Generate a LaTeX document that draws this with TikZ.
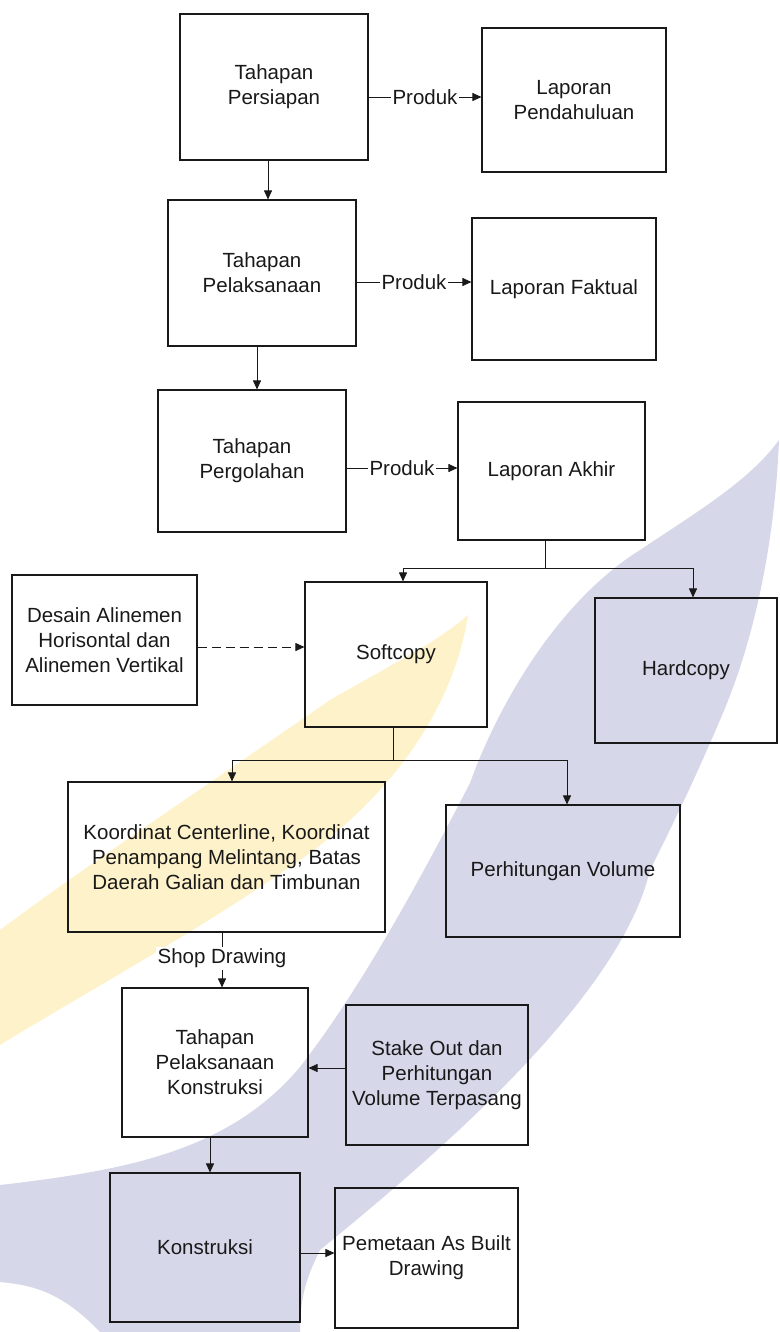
\documentclass[tikz,border=0pt]{standalone}
\usepackage{fontspec}
\setmainfont{Liberation Sans}
\usetikzlibrary{arrows.meta}
\definecolor{lav}{RGB}{214,215,233}
\definecolor{ylw}{RGB}{254,242,202}
\definecolor{ink}{RGB}{25,25,25}
\tikzset{
  box/.style={draw=ink, line width=1.1pt, rectangle, align=center, text=ink,
    font=\fontsize{20.5}{25}\selectfont, inner sep=0pt},
  conn/.style={draw=ink, line width=0.9pt},
  arr/.style={conn, -{Triangle[length=9pt,width=8pt]}},
  lbl/.style={fill=white, inner sep=2pt, text=ink, font=\fontsize{20.5}{25}\selectfont}
}
\begin{document}
\begin{tikzpicture}[x=1pt,y=-1pt]
\useasboundingbox (0,0) rectangle (779,1332);
% watermark bands
\fill[lav] (779,440) .. controls (775,540) and (755,640) .. (720,720)
  .. controls (690,790) and (670,830) .. (650,870)
  .. controls (620,1000) and (430,1160) .. (320,1250)
  .. controls (305,1280) and (300,1300) .. (300,1332) -- (100,1332)
  .. controls (60,1290) and (30,1285) .. (0,1282) -- (0,1185)
  .. controls (130,1170) and (230,1150) .. (300,1067)
  .. controls (360,990) and (420,880) .. (470,783)
  .. controls (500,700) and (560,600) .. (640,550)
  .. controls (700,510) and (750,480) .. (779,440) -- cycle;
\fill[ylw] (468,615) .. controls (455,700) and (400,790) .. (300,860)
  .. controls (200,930) and (90,990) .. (0,1045) -- (0,930)
  .. controls (80,870) and (200,790) .. (330,700)
  .. controls (400,660) and (440,640) .. (468,615) -- cycle;
% nodes
\node[box, minimum width=188pt, minimum height=146pt] (pers) at (274,87) {Tahapan\\Persiapan};
\node[box, minimum width=184pt, minimum height=144pt] (pend) at (574,100) {Laporan\\Pendahuluan};
\node[box, minimum width=188pt, minimum height=146pt] (pel) at (262,273) {Tahapan\\Pelaksanaan};
\node[box, minimum width=184pt, minimum height=142pt] (fakt) at (564,289) {Laporan Faktual};
\node[box, minimum width=188pt, minimum height=142pt] (perg) at (252,461) {Tahapan\\Pergolahan};
\node[box, minimum width=187pt, minimum height=138pt] (akhir) at (551.5,471) {Laporan Akhir};
\node[box, minimum width=185pt, minimum height=130pt] (desain) at (104.5,640) {Desain Alinemen\\Horisontal dan\\Alinemen Vertikal};
\node[box, minimum width=182pt, minimum height=145pt] (soft) at (396,654.5) {Softcopy};
\node[box, minimum width=182pt, minimum height=145pt] (hard) at (686,670.5) {Hardcopy};
\node[box, minimum width=317pt, minimum height=150pt] (koord) at (226.5,857) {Koordinat Centerline, Koordinat\\Penampang Melintang, Batas\\Daerah Galian dan Timbunan};
\node[box, minimum width=234pt, minimum height=132pt] (vol) at (563,871) {Perhitungan Volume};
\node[box, minimum width=186pt, minimum height=149pt] (tpk) at (215,1062.5) {Tahapan\\Pelaksanaan\\Konstruksi};
\node[box, minimum width=182pt, minimum height=140pt] (stake) at (437,1075) {Stake Out dan\\Perhitungan\\Volume Terpasang};
\node[box, minimum width=190pt, minimum height=149pt] (kons) at (205,1247.5) {Konstruksi};
\node[box, minimum width=183pt, minimum height=140pt] (pem) at (426.5,1258) {Pemetaan As Built\\Drawing};
% helper coordinates
\coordinate (r1) at (0,97);
\coordinate (r2) at (0,282);
\coordinate (r3) at (0,468);
\coordinate (v1) at (268,0);
\coordinate (v2) at (257,0);
\coordinate (j1) at (545,568);
\coordinate (sa) at (403,0);
\coordinate (ha) at (693,0);
\coordinate (rd) at (0,647);
\coordinate (j2) at (393,760);
\coordinate (ka) at (232,0);
\coordinate (va) at (567,0);
\coordinate (sd) at (222,0);
\coordinate (rs) at (0,1068);
\coordinate (v3) at (210,0);
\coordinate (rk) at (0,1253);
% connectors
\draw[arr] (pers.east |- r1) -- node[lbl]{Produk} (pend.west |- r1);
\draw[arr] (pel.east |- r2) -- node[lbl]{Produk} (fakt.west |- r2);
\draw[arr] (perg.east |- r3) -- node[lbl]{Produk} (akhir.west |- r3);
\draw[arr] (pers.south -| v1) -- (pel.north -| v1);
\draw[arr] (pel.south -| v2) -- (perg.north -| v2);
\draw[conn] (akhir.south -| j1) -- (j1);
\draw[arr] (j1) -| (soft.north -| sa);
\draw[arr] (j1) -| (hard.north -| ha);
\draw[arr, dashed, dash pattern=on 9pt off 5pt] (desain.east |- rd) -- (soft.west |- rd);
\draw[conn] (soft.south -| j2) -- (j2);
\draw[arr] (j2) -| (koord.north -| ka);
\draw[arr] (j2) -| (vol.north -| va);
\draw[arr] (koord.south -| sd) -- node[lbl, pos=0.47]{Shop Drawing} (tpk.north -| sd);
\draw[arr] (stake.west |- rs) -- (tpk.east |- rs);
\draw[arr] (tpk.south -| v3) -- (kons.north -| v3);
\draw[arr] (kons.east |- rk) -- (pem.west |- rk);
\end{tikzpicture}
\end{document}
